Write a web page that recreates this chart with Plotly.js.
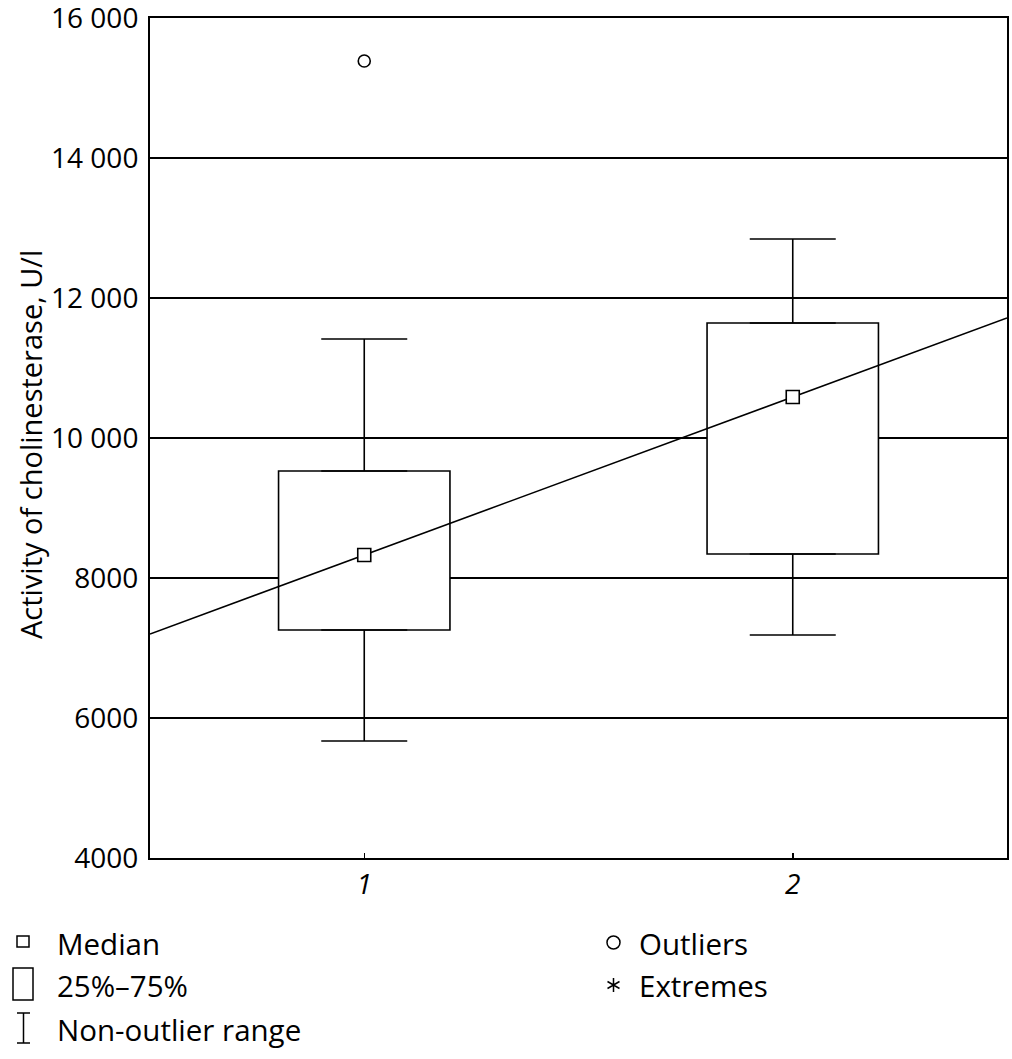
<!DOCTYPE html>
<html>
<head>
<meta charset="utf-8">
<script src="https://cdn.plot.ly/plotly-3.0.1.min.js"></script>
<style>html,body{margin:0;padding:0;background:#fff;}#chart{width:1012px;height:1059px;}</style>
</head>
<body>
<div id="chart"></div>
<script>
// ---- data ----
var categories = [1, 2];
var q1 = [7257, 8343];
var median = [8329, 10586];
var q3 = [9529, 11643];
var lowerWhisker = [5671, 7186];
var upperWhisker = [11414, 12843];
var outlierX = [1];
var outlierY = [15386];
var trendX = [0.5, 2.5];
var trendY = [7200, 11714];
var yTickVals = [4000, 6000, 8000, 10000, 12000, 14000, 16000];
var yTickText = ['4000', '6000', '8000', '10 000', '12 000', '14 000', '16 000'];
var xTickText = ['1', '2'];
var yTitle = 'Activity of cholinesterase, U/l';
var legendLeft = ['Median', '25%\u201375%', 'Non-outlier range'];
var legendRight = ['Outliers', 'Extremes'];

// ---- layout geometry ----
var W = 1012, H = 1059;
var M = {l: 150, r: 5, t: 18, b: 201};
var PW = W - M.l - M.r, PH = H - M.t - M.b;
function px(x) { return (x - M.l) / PW; }
function py(y) { return (H - M.b - y) / PH; }
var FONT = 'Open Sans, Noto Sans, sans-serif';
var FS = 28;
var FL = 29.5;

var boxH = q3.map(function (v, i) { return v - q1[i]; });
var upErr = upperWhisker.map(function (v, i) { return v - q3[i]; });
var loErr = q1.map(function (v, i) { return v - lowerWhisker[i]; });
var zeros = categories.map(function () { return 0; });

var traces = [
  {type: 'bar', x: categories, y: boxH, base: q1, width: 0.4,
   marker: {color: '#ffffff', line: {color: '#000', width: 1.6}}, hoverinfo: 'none'},
  {type: 'scatter', mode: 'markers', x: categories, y: q3,
   marker: {color: 'rgba(0,0,0,0)', size: 1},
   error_y: {type: 'data', symmetric: false, array: upErr, arrayminus: zeros,
             width: 43, thickness: 1.6, color: '#000'}},
  {type: 'scatter', mode: 'markers', x: categories, y: q1,
   marker: {color: 'rgba(0,0,0,0)', size: 1},
   error_y: {type: 'data', symmetric: false, array: zeros, arrayminus: loErr,
             width: 43, thickness: 1.6, color: '#000'}},
  {type: 'scatter', mode: 'lines', x: trendX, y: trendY,
   line: {color: '#000', width: 1.6}},
  {type: 'scatter', mode: 'markers', x: categories, y: median,
   marker: {symbol: 'square', size: 13, color: '#fff', line: {color: '#000', width: 1.6}}},
  {type: 'scatter', mode: 'markers', x: outlierX, y: outlierY,
   marker: {symbol: 'circle', size: 12, color: '#fff', line: {color: '#000', width: 1.6}}}
];

var shapes = [
  // median symbol
  {type: 'rect', xref: 'paper', yref: 'paper', x0: px(17), x1: px(29), y0: py(947), y1: py(936),
   line: {color: '#000', width: 1.5}, fillcolor: '#fff'},
  // box symbol
  {type: 'rect', xref: 'paper', yref: 'paper', x0: px(13), x1: px(33), y0: py(1000), y1: py(968),
   line: {color: '#000', width: 1.5}, fillcolor: '#fff'},
  // whisker symbol
  {type: 'path', xref: 'paper', yref: 'paper',
   path: 'M' + px(17) + ',' + py(1013) + 'L' + px(30) + ',' + py(1013) +
         'M' + px(23.5) + ',' + py(1013) + 'L' + px(23.5) + ',' + py(1043) +
         'M' + px(17) + ',' + py(1043) + 'L' + px(30) + ',' + py(1043),
   line: {color: '#000', width: 1.5}},
  // outlier symbol
  {type: 'circle', xref: 'paper', yref: 'paper', x0: px(607), x1: px(620), y0: py(949), y1: py(936),
   line: {color: '#000', width: 1.5}},
  // extreme symbol (asterisk)
  {type: 'path', xref: 'paper', yref: 'paper',
   path: 'M' + px(613.5) + ',' + py(978) + 'L' + px(613.5) + ',' + py(992) +
         'M' + px(607.5) + ',' + py(981.5) + 'L' + px(619.5) + ',' + py(988.5) +
         'M' + px(607.5) + ',' + py(988.5) + 'L' + px(619.5) + ',' + py(981.5),
   line: {color: '#000', width: 1.5}}
];

function legendText(t, x, y) {
  return {text: t, xref: 'paper', yref: 'paper', x: px(x), y: py(y), xanchor: 'left', yanchor: 'middle',
          showarrow: false, font: {family: FONT, size: FL, color: '#000'}};
}

var annotations = [
  {text: yTitle, textangle: -90, xref: 'paper', yref: 'paper', x: px(30), y: py(445),
   xanchor: 'center', yanchor: 'middle', showarrow: false, font: {family: FONT, size: 29, color: '#000'}},
  legendText(legendLeft[0], 55, 943),
  legendText(legendLeft[1], 55, 986),
  legendText(legendLeft[2], 55, 1029),
  legendText(legendRight[0], 637, 943),
  legendText(legendRight[1], 637, 986)
];

var layout = {
  width: W, height: H,
  margin: M,
  paper_bgcolor: '#fff', plot_bgcolor: '#fff',
  showlegend: false,
  xaxis: {range: [0.5, 2.5], tickvals: categories, ticktext: xTickText,
          ticks: 'inside', ticklen: 5, tickwidth: 1.5, tickcolor: '#000',
          showgrid: false, zeroline: false, showline: true, mirror: true,
          linecolor: '#000', linewidth: 2, fixedrange: true,
          tickfont: {family: FONT, size: FS, color: '#000', style: 'italic'}},
  yaxis: {range: [4000, 16000], tickvals: yTickVals, ticktext: yTickText,
          ticks: 'inside', ticklen: 12, tickwidth: 2, tickcolor: '#000',
          showgrid: true, gridcolor: '#000', gridwidth: 1.6, zeroline: false,
          showline: true, mirror: true, linecolor: '#000', linewidth: 2, fixedrange: true,
          ticklabelstandoff: 4, ticklabeloverflow: 'allow',
          tickfont: {family: FONT, size: FS, color: '#000'}},
  shapes: shapes,
  annotations: annotations
};

Plotly.newPlot('chart', traces, layout, {staticPlot: true, displayModeBar: false});
</script>
</body>
</html>
